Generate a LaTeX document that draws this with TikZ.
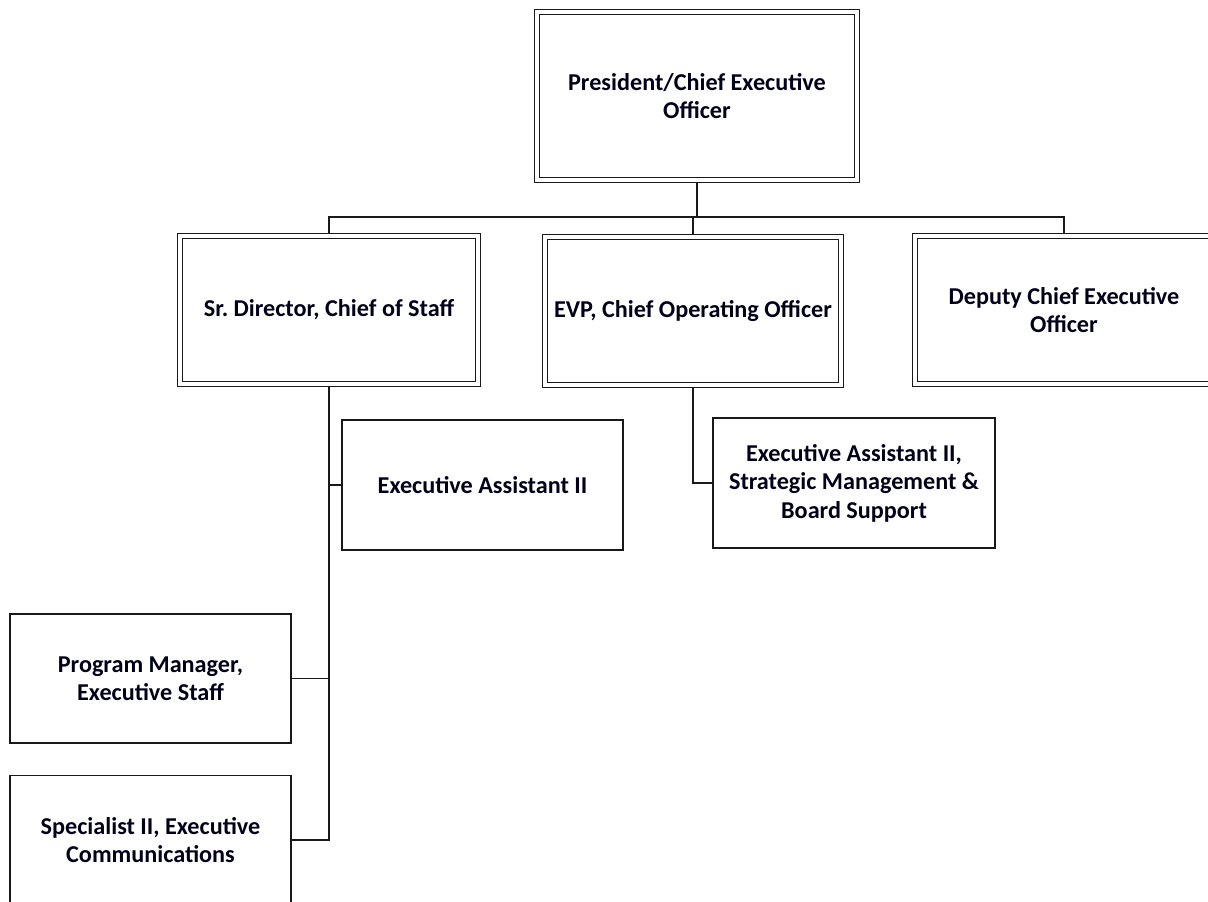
\documentclass[tikz,border=0pt]{standalone}
\usepackage{fontspec}
\setmainfont{Carlito}
\usetikzlibrary{backgrounds}
\begin{document}
\frenchspacing
\begin{tikzpicture}[x=1pt,y=-1pt,
  lbl/.style={font=\bfseries\fontsize{24.2}{28.5}\selectfont, text=black!90!blue, align=center},
  dbox/.style={lbl, draw=black!90, line width=1.6pt, double=white, double distance=3.7pt, fill=white, rectangle, inner sep=0pt, outer sep=0pt},
  sbox/.style={lbl, draw=black!90, line width=1.7pt, fill=white, rectangle, inner sep=0pt, outer sep=0pt},
  conn/.style={draw=black!90, line width=1.7pt}]
\useasboundingbox (0,0) rectangle (1208,902);
\clip (0,0) rectangle (1208,902);
\node[dbox, minimum width=320pt, minimum height=168pt] (pres) at (697,96) {President/Chief Executive\\Officer};
\node[dbox, minimum width=298pt, minimum height=148pt] (sr) at (329,310) {Sr. Director, Chief of Staff};
\node[dbox, minimum width=296pt, minimum height=148pt] (evp) at (693,311) {EVP, Chief Operating Officer};
\node[dbox, minimum width=298pt, minimum height=148pt] (dep) at (1064,310) {Deputy Chief Executive\\Officer};
\node[sbox, minimum width=281pt, minimum height=130pt] (ea1) at (482.5,485) {Executive Assistant II};
\node[sbox, minimum width=282pt, minimum height=130pt] (ea2) at (854,483) {Executive Assistant II,\\Strategic Management \&\\Board Support};
\node[sbox, minimum width=281pt, minimum height=129pt] (pm) at (150.5,678.5) {Program Manager,\\Executive Staff};
\node[sbox, minimum width=281pt, minimum height=129pt] (sp) at (150.5,840) {Specialist II, Executive\\Communications};
\coordinate (bus) at (697,217);
\begin{scope}[on background layer]
\draw[conn] (pres.south) -- (bus);
\draw[conn] (sr.north) |- (bus);
\draw[conn] (dep.north) |- (bus);
\draw[conn] (evp.north) -- (evp.north |- bus);
\draw[conn] (sr.south) |- (sp.east);
\draw[conn] (sr.south |- ea1.west) -- (ea1.west);
\draw[conn] (sr.south |- pm.east) -- (pm.east);
\draw[conn] (evp.south) |- (ea2.west);
\end{scope}
\end{tikzpicture}
\end{document}
